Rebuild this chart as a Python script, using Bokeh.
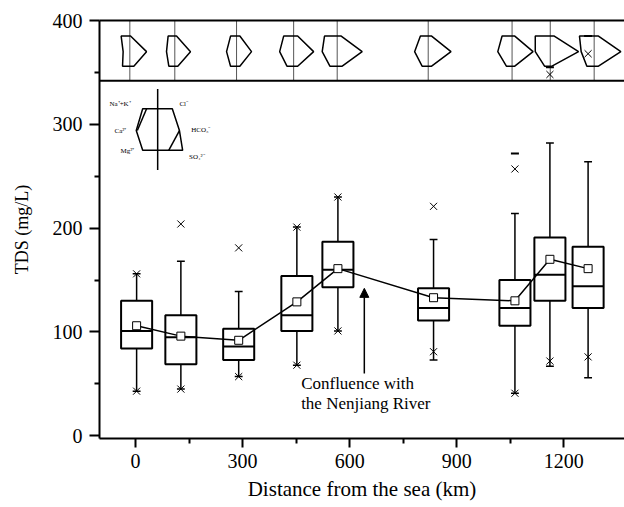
import numpy as np
from bokeh.plotting import figure
from bokeh.models import (Range1d, FixedTicker, Span, Arrow, NormalHead, Label,
                          LinearAxis)
from bokeh.embed import file_html
from bokeh.resources import INLINE

# ---------------- data ----------------
sites = [3, 127, 289, 452, 567, 835, 1063, 1161, 1268]          # km from the sea
q1 = [84, 69, 73, 101, 143, 111, 106, 130, 123]
median = [101, 95, 86, 116, 160, 123, 123, 155, 144]
q3 = [130, 116, 103, 154, 187, 142, 150, 191, 182]
mean = [106, 96, 92, 129, 161, 133, 130, 170, 161]
whisker_lo = [43, 45, 57, 68, 101, 73, 41, 67, 56]
whisker_hi = [156, 168, 139, 201, 230, 189, 214, 282, 264]
p1 = [43, 45, 57, 68, 101, 81, 41, 72, 76]
p99 = [156, 204, 181, 201, 230, 221, 257, 348, 368]
max_sites = [1063, 1161, 1268]
max_vals = [272, 355, 385]

# Stiff diagrams (meq/L) per site
stiff_x = [-16, 110, 283, 443, 565, 820, 1055, 1162, 1285]
na_k = [0.87, 0.67, 0.60, 1.00, 1.27, 0.78, 1.00, 1.50, 1.47]
ca = [0.67, 0.83, 1.00, 1.40, 1.50, 1.36, 1.43, 1.50, 1.30]
mg = [0.73, 0.60, 0.60, 0.67, 0.73, 0.61, 0.57, 0.57, 0.73]
cl = [0.07, 0.17, 0.33, 0.40, 0.40, 0.34, 0.27, 0.40, 0.43]
hco3 = [1.67, 1.57, 1.50, 2.00, 2.50, 2.28, 2.10, 2.83, 2.67]
so4 = [0.40, 0.30, 0.33, 0.40, 0.50, 0.34, 0.27, 0.17, 0.43]

x_ticks = [0, 300, 600, 900, 1200]
x_minor = [150, 450, 750, 1050]
y_ticks = [0, 100, 200, 300, 400]
y_minor = [50, 150, 250, 350]

FONT = "Liberation Serif"

# ---------------- layout constants ----------------
BOX_W = 87
CAP_W = 22
PANEL_BOTTOM = 342
ROW_TOP, ROW_MID, ROW_BOT = 385, 370, 356
STIFF_SCALE = 28  # km per meq/L

p = figure(width=624, height=507, x_range=Range1d(-101, 1370),
           y_range=Range1d(-2.6, 400), output_backend="svg",
           toolbar_location=None, min_border_left=99, min_border_right=0,
           min_border_top=20, min_border_bottom=69)
p.outline_line_color = None
p.grid.visible = False
p.background_fill_color = "white"
p.border_fill_color = "white"

# axes
for ax in (p.xaxis[0], p.yaxis[0]):
    ax.axis_line_width = 2
    ax.axis_line_color = "black"
    ax.major_tick_line_width = 2
    ax.minor_tick_line_width = 2
    ax.major_tick_in = 0
    ax.minor_tick_in = 0
    ax.major_tick_out = 9
    ax.minor_tick_out = 5
    ax.major_label_text_font = FONT
    ax.major_label_text_font_size = "20px"
    ax.major_label_text_color = "black"
    ax.axis_label_text_font = FONT
    ax.axis_label_text_font_style = "normal"
    ax.axis_label_text_color = "black"

p.xaxis[0].ticker = FixedTicker(ticks=x_ticks, minor_ticks=x_minor)
p.yaxis[0].ticker = FixedTicker(ticks=y_ticks, minor_ticks=y_minor)
p.xaxis[0].axis_label = "Distance from the sea (km)"
p.xaxis[0].axis_label_text_font_size = "21px"
p.xaxis[0].major_label_standoff = 6
p.xaxis[0].axis_label_standoff = 6
p.yaxis[0].axis_label = "TDS (mg/L)"
p.yaxis[0].axis_label_text_font_size = "18px"
p.yaxis[0].major_label_standoff = 7
p.yaxis[0].axis_label_standoff = 18
p.yaxis[0].major_tick_out = 10

# top border as an axis without ticks
top_ax = LinearAxis(ticker=FixedTicker(ticks=[]), axis_line_width=2,
                    axis_line_color="black", major_tick_line_color=None,
                    minor_tick_line_color=None, major_label_text_font_size="0px")
p.add_layout(top_ax, "above")

# ---------------- stiff panel ----------------
p.add_layout(Span(location=PANEL_BOTTOM, dimension="width",
                  line_color="black", line_width=2))
p.segment(x0=stiff_x, y0=[PANEL_BOTTOM] * len(stiff_x), x1=stiff_x,
          y1=[400] * len(stiff_x), line_color="#555555", line_width=1)

s_xs, s_ys = [], []
for i, cx in enumerate(stiff_x):
    s_xs.append([cx - na_k[i] * STIFF_SCALE, cx + cl[i] * STIFF_SCALE,
                 cx + hco3[i] * STIFF_SCALE, cx + so4[i] * STIFF_SCALE,
                 cx - mg[i] * STIFF_SCALE, cx - ca[i] * STIFF_SCALE])
    s_ys.append([ROW_TOP, ROW_TOP, ROW_MID, ROW_BOT, ROW_BOT, ROW_MID])
p.patches(s_xs, s_ys, fill_color=None, line_color="black", line_width=1.5)

# ---------------- legend schematic ----------------
leg_cx = 62
p.segment(x0=[leg_cx], y0=[256], x1=[leg_cx], y1=[334], line_color="black",
          line_width=1.5)
leg_xs = [20, 103, 123, 132, 20, 2]
leg_ys = [315, 315, 294, 275, 275, 294]
p.patch(leg_xs, leg_ys, fill_color=None, line_color="black", line_width=1.5)
p.segment(x0=[31, 123], y0=[315, 294], x1=[5, 93], y1=[294, 275],
          line_color="black", line_width=1.5)
leg_labels = [("Na\u207a+K\u207a", -73, 320), ("Ca\u00b2\u207a", -59, 294),
              ("Mg\u00b2\u207a", -42, 274), ("Cl\u207b", 123, 320),
              ("HCO\u2083\u207b", 156, 295), ("SO\u2084\u00b2\u207b", 150, 269)]
for t, lx, ly in leg_labels:
    p.add_layout(Label(x=lx, y=ly, text=t, text_font=FONT,
                       text_font_size="7px", text_baseline="middle",
                       text_color="black"))

# ---------------- box plots ----------------
s = np.array(sites, dtype=float)
p.segment(x0=s, y0=q3, x1=s, y1=whisker_hi, line_color="black", line_width=1.5)
p.segment(x0=s, y0=q1, x1=s, y1=whisker_lo, line_color="black", line_width=1.5)
p.segment(x0=s - CAP_W / 2, y0=whisker_hi, x1=s + CAP_W / 2, y1=whisker_hi,
          line_color="black", line_width=1.5)
p.segment(x0=s - CAP_W / 2, y0=whisker_lo, x1=s + CAP_W / 2, y1=whisker_lo,
          line_color="black", line_width=1.5)
p.quad(left=s - BOX_W / 2, right=s + BOX_W / 2, bottom=q1, top=q3,
       fill_color=None, line_color="black", line_width=2)
p.segment(x0=s - BOX_W / 2, y0=median, x1=s + BOX_W / 2, y1=median,
          line_color="black", line_width=2)
p.scatter(s, p1, marker="x", size=10, line_color="black", line_width=1)
p.scatter(s, p99, marker="x", size=10, line_color="black", line_width=1)
p.scatter(max_sites, max_vals, marker="dash", size=8, line_color="black",
          line_width=2)

# mean line
p.line(s, mean, line_color="black", line_width=1.5)
p.scatter(s, mean, marker="square", size=8, fill_color="white",
          line_color="black", line_width=1)

# ---------------- annotation ----------------
p.add_layout(Arrow(end=NormalHead(size=9, fill_color="black", line_color="black",
                                  line_width=1),
                   x_start=641, y_start=60, x_end=641, y_end=142,
                   line_color="black", line_width=1.5))
p.add_layout(Label(x=464, y=50, text="Confluence with", text_font=FONT,
                   text_font_size="17px", text_baseline="middle",
                   text_color="black"))
p.add_layout(Label(x=464, y=31, text="the Nenjiang River", text_font=FONT,
                   text_font_size="17px", text_baseline="middle",
                   text_color="black"))

open("out.html", "w").write(file_html(p, INLINE))
